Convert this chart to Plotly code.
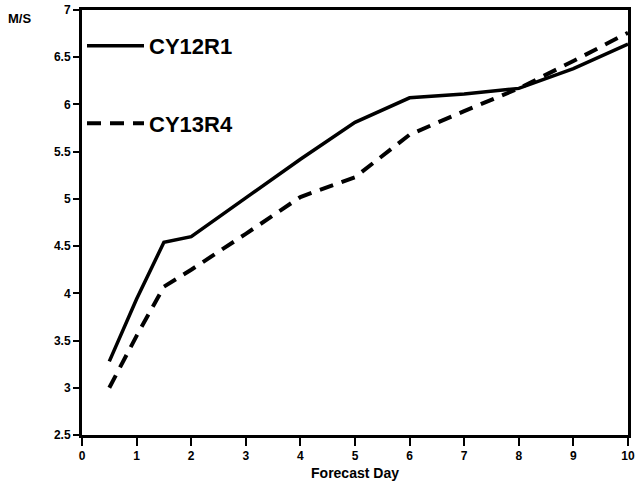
import plotly.graph_objects as go

days_a = [0.5, 1, 1.5, 2, 3, 4, 5, 6, 7, 8, 9, 10]
cy12r1 = [3.28, 3.94, 4.54, 4.60, 5.01, 5.42, 5.81, 6.07, 6.11, 6.17, 6.38, 6.64]
days_b = [0.5, 1, 1.5, 2, 3, 4, 5, 6, 7, 8, 9, 10]
cy13r4 = [3.00, 3.55, 4.07, 4.25, 4.63, 5.02, 5.23, 5.68, 5.93, 6.17, 6.46, 6.76]

x_ticks = list(range(0, 11))
y_ticks = [2.5, 3, 3.5, 4, 4.5, 5, 5.5, 6, 6.5, 7]
y_labels = ["2.5", "3", "3.5", "4", "4.5", "5", "5.5", "6", "6.5", "7"]

FONT = "Liberation Sans, Arial, Helvetica, sans-serif"

fig = go.Figure()
fig.add_trace(go.Scatter(x=days_a, y=cy12r1, mode="lines", name="CY12R1",
                         legendgroup="a",
                         line=dict(color="black", width=3.5)))
fig.add_trace(go.Scatter(x=days_b, y=cy13r4, mode="lines", name="CY13R4",
                         legendgroup="b",
                         line=dict(color="black", width=4, dash="14px,9px")))

fig.update_layout(
    width=635, height=489,
    margin=dict(l=82, r=7, t=10, b=54),
    paper_bgcolor="white", plot_bgcolor="white",
    font=dict(family=FONT, color="black"),
    showlegend=True,
    legend=dict(x=0.0, y=0.965, xanchor="left", yanchor="top",
                bgcolor="rgba(0,0,0,0)", itemwidth=57,
                font=dict(size=22, weight="bold", family=FONT),
                traceorder="grouped", tracegroupgap=46),
    xaxis=dict(range=[0, 10], tickvals=x_ticks, ticktext=[str(v) for v in x_ticks],
               automargin=False,
               showgrid=False, zeroline=False, showline=True, linecolor="black",
               linewidth=3, mirror=True, ticks="outside", ticklen=8, tickwidth=2,
               tickcolor="black",
               tickfont=dict(size=12, weight="bold", family=FONT),
               title=dict(text="Forecast Day", standoff=6,
                          font=dict(size=14, weight="bold", family=FONT))),
    yaxis=dict(range=[2.5, 7], tickvals=y_ticks, ticktext=y_labels,
               automargin=False,
               showgrid=False, zeroline=False, showline=True, linecolor="black",
               linewidth=3, mirror=True, ticks="outside", ticklen=6, tickwidth=2,
               tickcolor="black",
               tickfont=dict(size=12, weight="bold", family=FONT)),
)

fig.add_annotation(text="M/S", xref="paper", yref="paper", x=-0.14, y=0.98,
                   xanchor="left", yanchor="middle", showarrow=False,
                   font=dict(size=13, weight="bold", family=FONT))

fig.write_html("out.html")
